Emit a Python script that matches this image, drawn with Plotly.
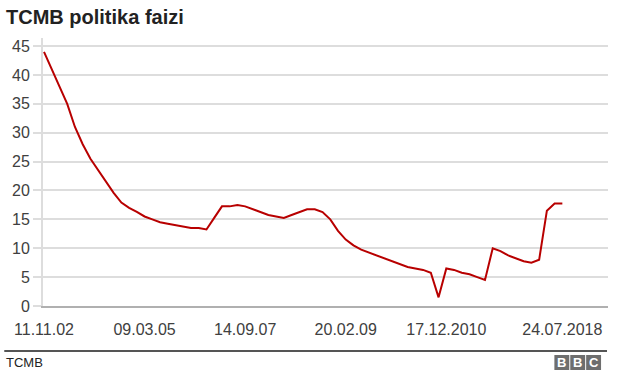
import plotly.graph_objects as go

# ---- data ----
rate_values = [
    44, 41, 38, 35, 31, 28, 25.5, 23.5, 21.5, 19.6,
    17.9, 17.0, 16.3, 15.5, 15.0, 14.5, 14.25, 14.0, 13.75, 13.5,
    13.5, 13.25, 15.25, 17.25, 17.25, 17.5, 17.25, 16.75, 16.25, 15.75,
    15.5, 15.25, 15.75, 16.25, 16.75, 16.75, 16.25, 15.0, 13.0, 11.5,
    10.5, 9.75, 9.25, 8.75, 8.25, 7.75, 7.25, 6.75, 6.5, 6.25,
    5.75, 1.5, 6.5, 6.25, 5.75, 5.5, 5.0, 4.5, 10.0, 9.5,
    8.75, 8.25, 7.75, 7.5, 8.0, 16.5, 17.75, 17.75,
]
x_tick_index = [0, 13, 26, 39, 52, 67]
x_tick_labels = ["11.11.02", "09.03.05", "14.09.07", "20.02.09", "17.12.2010", "24.07.2018"]
y_tick_values = [0, 5, 10, 15, 20, 25, 30, 35, 40, 45]

title_text = "TCMB politika faizi"
source_text = "TCMB"
logo_letters = ["B", "B", "C"]

# ---- layout geometry ----
W, H = 640, 376
L, R, T, B = 39, 32, 38, 70
PW, PH = W - L - R, H - T - B


def px_x(x):
    return (x - L) / PW


def px_y(y):
    return (H - B - y) / PH


FONT = "Liberation Sans, Arial, Helvetica, sans-serif"

fig = go.Figure(
    go.Scatter(
        x=list(range(len(rate_values))),
        y=rate_values,
        mode="lines",
        line=dict(color="#b80000", width=2),
        hoverinfo="skip",
    )
)

fig.update_layout(
    width=W,
    height=H,
    margin=dict(l=L, r=R, t=T, b=B),
    paper_bgcolor="white",
    plot_bgcolor="white",
    showlegend=False,
    font=dict(family=FONT, color="#404040"),
)

fig.update_xaxes(
    range=[-0.13, 72.9],
    tickmode="array",
    tickvals=x_tick_index,
    ticktext=x_tick_labels,
    showgrid=False,
    zeroline=False,
    showline=True,
    linecolor="#b0b0b0",
    linewidth=2,
    ticks="outside",
    ticklen=8,
    tickcolor="rgba(0,0,0,0)",
    tickfont=dict(size=16, color="#404040", family=FONT),
    fixedrange=True,
)

fig.update_yaxes(
    range=[0, 46.4],
    tickmode="array",
    tickvals=y_tick_values,
    showgrid=True,
    gridcolor="#dddddd",
    gridwidth=2,
    zeroline=False,
    showline=True,
    linecolor="#dddddd",
    linewidth=2,
    ticks="outside",
    ticklen=8,
    tickwidth=2,
    tickcolor="#dddddd",
    tickfont=dict(size=16, color="#404040", family=FONT),
    fixedrange=True,
)

shapes = []
annotations = []

# title
annotations.append(dict(
    text="<b>" + title_text + "</b>", xref="paper", yref="paper",
    x=px_x(0), y=px_y(17), xanchor="left", yanchor="middle",
    showarrow=False, font=dict(size=20, color="#222222", family=FONT),
))

# footer rule
shapes.append(dict(
    type="line", xref="paper", yref="paper",
    x0=px_x(0), x1=px_x(607), y0=px_y(351), y1=px_y(351),
    line=dict(color="#555555", width=2),
))

# source
annotations.append(dict(
    text=source_text, xref="paper", yref="paper",
    x=px_x(0), y=px_y(362), xanchor="left", yanchor="middle",
    showarrow=False, font=dict(size=13, color="#222222", family=FONT),
))

# BBC logo blocks
block_left = [554, 570, 586]
for bx, letter in zip(block_left, logo_letters):
    shapes.append(dict(
        type="rect", xref="paper", yref="paper",
        x0=px_x(bx), x1=px_x(bx + 15), y0=px_y(355), y1=px_y(370),
        fillcolor="#6e6e6e", line=dict(width=0),
    ))
    annotations.append(dict(
        text="<b>" + letter + "</b>", xref="paper", yref="paper",
        x=px_x(bx + 7.5), y=px_y(362.5), xanchor="center", yanchor="middle",
        showarrow=False, font=dict(size=13, color="white", family=FONT),
    ))

fig.update_layout(shapes=shapes, annotations=annotations)

fig.write_html("out.html")
